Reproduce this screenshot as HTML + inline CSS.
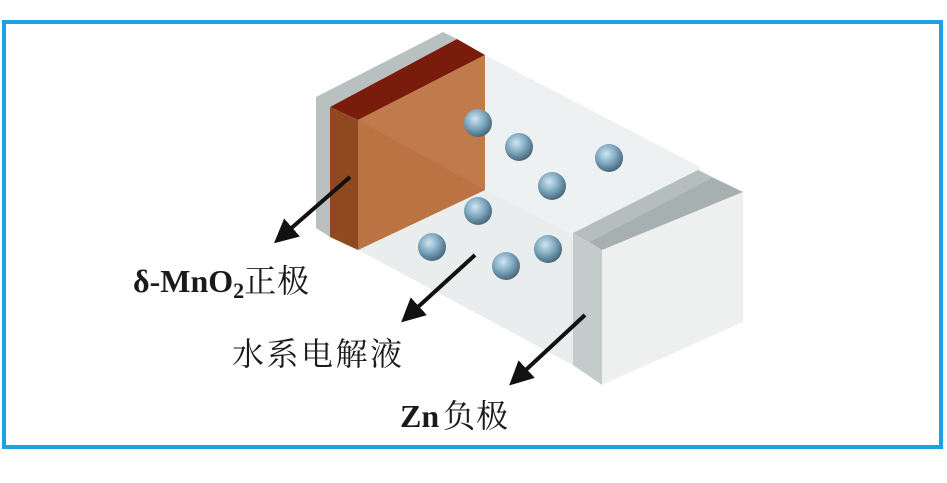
<!DOCTYPE html>
<html><head><meta charset="utf-8"><style>
html,body{margin:0;padding:0;background:#fff;}
svg{display:block;}
text{font-family:"Liberation Serif","Noto Serif CJK SC",serif;font-size:32px;fill:#1a1a1a;}
</style></head><body>
<svg width="947" height="483" viewBox="0 0 947 483" xmlns="http://www.w3.org/2000/svg">
<defs>
<radialGradient id="b" cx="0.4" cy="0.35" r="0.7">
<stop offset="0" stop-color="#cfe6f2"/><stop offset="0.5" stop-color="#7fa8c0"/><stop offset="1" stop-color="#3f5f72"/>
</radialGradient>
<marker id="ah" markerWidth="6" markerHeight="6" refX="4" refY="3" orient="auto" markerUnits="strokeWidth">
<path d="M0,0 L6,3 L0,6 z" fill="#111"/></marker>
</defs>
<rect x="4" y="22" width="937" height="425" fill="#fff" stroke="#1ea0e8" stroke-width="4"/>
<polygon points="485,55 700,167 700,300 485,190" fill="#eef1f1"/>
<polygon points="358,250 485,190 700,300 573,365" fill="#eaeded"/>
<polygon points="316,97 443,32 457,39 330,107 330,237 316,228" fill="#b8c0c0"/>
<polygon points="330,107 457,39 485,55 358,120" fill="#7a1c0c"/>
<polygon points="330,107 358,120 358,250 330,237" fill="#8e4a1e"/>
<polygon points="358,120 485,55 485,190 358,250" fill="#c07a4c"/>
<polygon points="358,120 485,190 358,250" fill="#b86e40" opacity="0.6"/>
<polygon points="573,233 698,170 743,192 602,250" fill="#b5bebe"/>
<polygon points="590,242 712,178 743,192 602,250" fill="#a6b0b0"/>
<polygon points="573,233 602,250 602,385 573,365" fill="#c3cbcb"/>
<polygon points="602,250 743,192 743,322 602,385" fill="#eef0f0"/>
<g fill="url(#b)">
<circle cx="478" cy="123" r="14"/><circle cx="519" cy="147" r="14"/><circle cx="609" cy="158" r="14"/>
<circle cx="552" cy="186" r="14"/><circle cx="478" cy="211" r="14"/><circle cx="432" cy="247" r="14"/>
<circle cx="548" cy="249" r="14"/><circle cx="506" cy="266" r="14"/>
</g>
<g stroke="#111" stroke-width="4" fill="none" marker-end="url(#ah)">
<line x1="350" y1="177" x2="280" y2="238"/>
<line x1="475" y1="255" x2="407" y2="317"/>
<line x1="585" y1="315" x2="515" y2="380"/>
</g>
<text x="133" y="292" font-weight="bold" font-size="33">δ-MnO<tspan font-size="22" dy="6">2</tspan><tspan dy="-6" font-weight="normal" font-size="32" letter-spacing="1">正极</tspan></text>
<text x="232" y="365" letter-spacing="2.5">水系电解液</text>
<text x="400" y="427" font-size="33"><tspan font-weight="bold">Zn</tspan><tspan dx="4" letter-spacing="1">负极</tspan></text>
</svg>
</body></html>
